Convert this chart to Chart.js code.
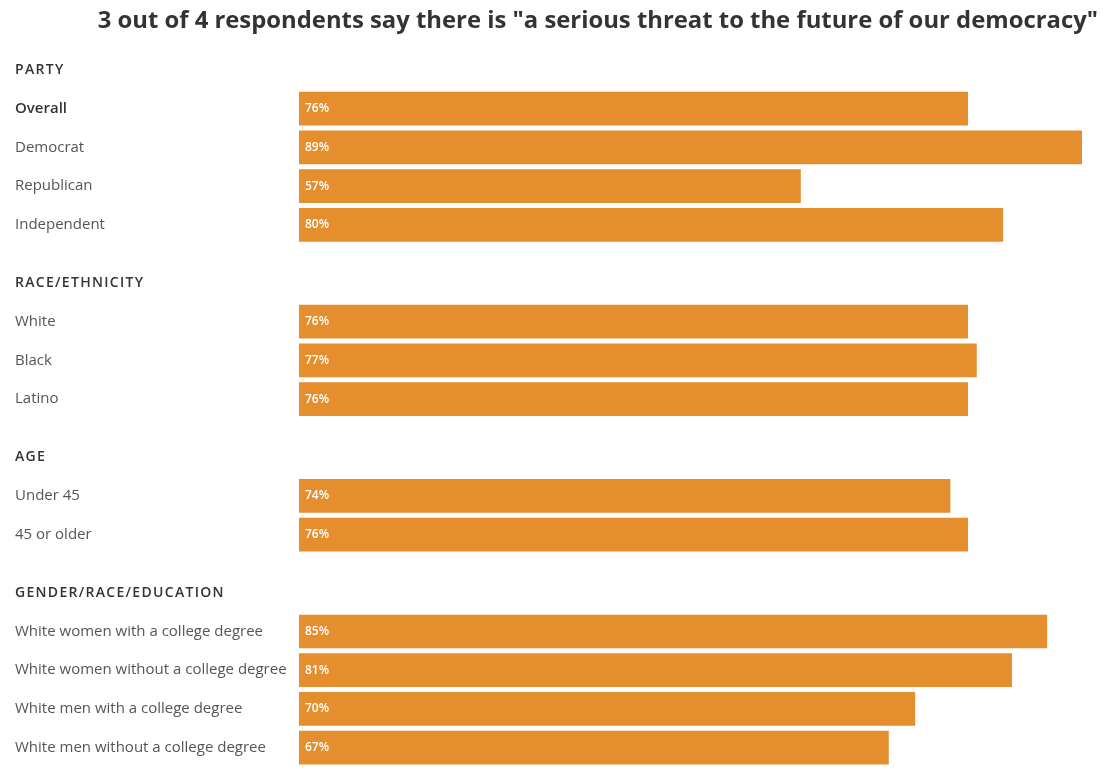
<!DOCTYPE html>
<html>
<head>
<meta charset="utf-8">
<script src="https://cdn.jsdelivr.net/npm/chart.js@4/dist/chart.umd.min.js"></script>
<style>
  html, body { margin: 0; padding: 0; background: #fff; }
  #wrap { width: 1111px; height: 779px; }
</style>
</head>
<body>
<div id="wrap"><canvas id="myChart"></canvas></div>
<script>
const title = '3 out of 4 respondents say there is "a serious threat to the future of our democracy"';

const groupNames = ["PARTY", "RACE/ETHNICITY", "AGE", "GENDER/RACE/EDUCATION"];

const partyLabels = ["Overall", "Democrat", "Republican", "Independent"];
const partyValues = [76, 89, 57, 80];

const raceLabels = ["White", "Black", "Latino"];
const raceValues = [76, 77, 76];

const ageLabels = ["Under 45", "45 or older"];
const ageValues = [74, 76];

const eduLabels = [
  "White women with a college degree",
  "White women without a college degree",
  "White men with a college degree",
  "White men without a college degree"
];
const eduValues = [85, 81, 70, 67];

const groupLabels = [partyLabels, raceLabels, ageLabels, eduLabels];
const groupValues = [partyValues, raceValues, ageValues, eduValues];

// rows: header then its bars, a bit more air before each new header
let rows = [];
let pos = 0;
for (let g = 0; g < groupNames.length; g++) {
  if (g > 0) pos += 1.5;
  rows.push({ label: groupNames[g], header: true, pos: pos });
  for (let i = 0; i < groupLabels[g].length; i++) {
    pos += 1;
    rows.push({ label: groupLabels[g][i], header: false, bold: groupLabels[g][i] == "Overall", pos: pos, value: groupValues[g][i] });
  }
}
const barRows = rows.filter(r => !r.header);
const maxValue = Math.max(...barRows.map(r => r.value));

const rowAt = i => rows[i] || {};
const font = '"Open Sans"';

const valueLabels = {
  id: 'valueLabels',
  afterDatasetsDraw(chart) {
    const ctx = chart.ctx;
    const meta = chart.getDatasetMeta(0);
    ctx.save();
    ctx.fillStyle = '#fff';
    ctx.font = '600 12px ' + font;
    ctx.textAlign = 'left';
    ctx.textBaseline = 'middle';
    meta.data.forEach((bar, i) => {
      ctx.fillText(barRows[i].value + '%', bar.base + 6, bar.y);
    });
    ctx.restore();
  }
};

// group headings are letter-spaced, tick labels can't do that
const groupHeaders = {
  id: 'groupHeaders',
  afterDraw(chart) {
    const ctx = chart.ctx;
    const y = chart.scales.y;
    ctx.save();
    ctx.fillStyle = '#333';
    ctx.font = '600 14px ' + font;
    ctx.letterSpacing = '1.3px';
    ctx.textAlign = 'left';
    ctx.textBaseline = 'middle';
    rows.filter(r => r.header).forEach(r => {
      ctx.fillText(r.label, y.left, y.getPixelForValue(r.pos));
    });
    ctx.restore();
  }
};

new Chart(document.getElementById('myChart'), {
  type: 'bar',
  data: {
    datasets: [{
      data: barRows.map(r => ({ x: r.value, y: r.pos })),
      backgroundColor: '#e48e2e',
      borderWidth: 0,
      barThickness: 33
    }]
  },
  options: {
    indexAxis: 'y',
    responsive: true,
    maintainAspectRatio: false,
    animation: false,
    layout: { padding: { left: 15, right: 13, top: 7, bottom: 12 } },
    plugins: {
      legend: { display: false },
      tooltip: { enabled: false },
      title: {
        display: true,
        text: title,
        align: 'end',
        color: '#333',
        font: { family: font, size: 23.85, weight: 'bold', lineHeight: 1.2 },
        padding: { top: 0, bottom: 15 }
      }
    },
    scales: {
      x: {
        display: false,
        min: 0,
        max: maxValue
      },
      y: {
        type: 'linear',
        reverse: true,
        offset: false,
        min: -0.5,
        max: pos + 0.5,
        grid: { display: false },
        border: { display: false },
        afterFit: axis => { axis.width = 284; },
        afterBuildTicks: axis => { axis.ticks = barRows.map(r => ({ value: r.pos })); },
        ticks: {
          autoSkip: false,
          crossAlign: 'far',
          padding: 0,
          callback: (value, index) => (barRows[index] || {}).label,
          color: ctx => (barRows[ctx.index] || {}).bold ? '#333' : '#555',
          font: ctx => ({
            family: font,
            size: 15,
            weight: (barRows[ctx.index] || {}).bold ? '600' : 'normal'
          })
        }
      },
      y2: {
        position: 'right',
        display: true,
        ticks: { display: false },
        grid: { display: false },
        border: { display: false },
        afterFit: axis => { axis.width = 16; }
      }
    }
  },
  plugins: [valueLabels, groupHeaders]
});
</script>
</body>
</html>
